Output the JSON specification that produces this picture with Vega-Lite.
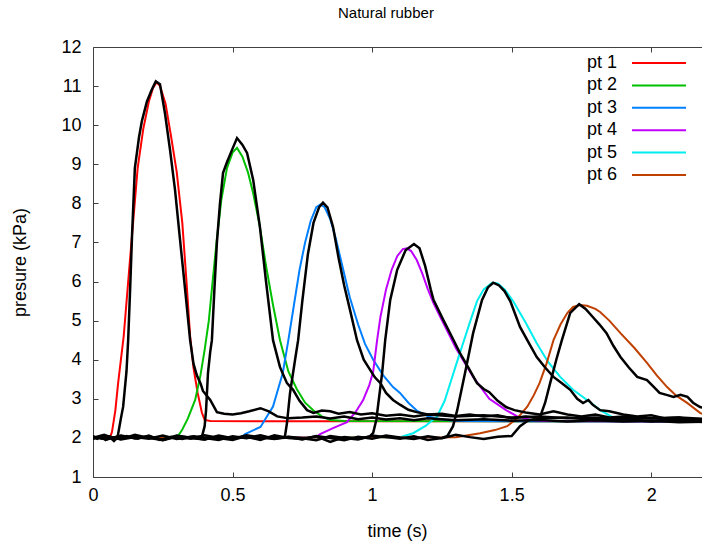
{
"$schema": "https://vega.github.io/schema/vega-lite/v6.json",
"width": 614, "height": 430,
"autosize": {"type": "none"},
"padding": {"left": 93, "top": 47, "right": 0, "bottom": 70},
"background": "white",
"title": {"text": "Natural rubber", "anchor": "start", "frame": "group", "dx": 245, "offset": 17, "fontSize": 15, "font": "Liberation Sans", "fontWeight": "normal", "color": "#000"},
"config": {
"view": {"stroke": "#404040", "strokeWidth": 1},
"axis": {"labelFont": "Liberation Sans", "labelFontSize": 18, "labelColor": "#000", "tickColor": "#404040", "tickSize": -5, "domain": false, "grid": false, "labelOverlap": false, "labelFlush": false, "titleFont": "Liberation Sans", "titleFontSize": 18, "titleFontWeight": "normal", "titleColor": "#000"}
},
"datasets": {
"model": [
{"s":"pt 1","t":0,"p":2.0},{"s":"pt 1","t":0.06,"p":2.0},{"s":"pt 1","t":0.068,"p":2.15},{"s":"pt 1","t":0.08,"p":2.7},{"s":"pt 1","t":0.09,"p":3.4},{"s":"pt 1","t":0.10,"p":4.0},{"s":"pt 1","t":0.11,"p":4.6},{"s":"pt 1","t":0.125,"p":5.9},{"s":"pt 1","t":0.14,"p":7.2},{"s":"pt 1","t":0.16,"p":8.9},{"s":"pt 1","t":0.18,"p":9.9},{"s":"pt 1","t":0.20,"p":10.6},{"s":"pt 1","t":0.215,"p":10.95},{"s":"pt 1","t":0.228,"p":11.1},{"s":"pt 1","t":0.24,"p":11.0},{"s":"pt 1","t":0.26,"p":10.55},{"s":"pt 1","t":0.28,"p":9.7},{"s":"pt 1","t":0.30,"p":8.8},{"s":"pt 1","t":0.32,"p":7.5},{"s":"pt 1","t":0.335,"p":6.0},{"s":"pt 1","t":0.348,"p":4.6},{"s":"pt 1","t":0.36,"p":3.8},{"s":"pt 1","t":0.375,"p":3.15},{"s":"pt 1","t":0.39,"p":2.65},{"s":"pt 1","t":0.40,"p":2.46},{"s":"pt 1","t":0.42,"p":2.43},{"s":"pt 1","t":2.3,"p":2.42},
{"s":"pt 2","t":0,"p":2.0},{"s":"pt 2","t":0.30,"p":2.0},{"s":"pt 2","t":0.319,"p":2.2},{"s":"pt 2","t":0.34,"p":2.5},{"s":"pt 2","t":0.366,"p":2.97},{"s":"pt 2","t":0.385,"p":3.6},{"s":"pt 2","t":0.40,"p":4.25},{"s":"pt 2","t":0.415,"p":5.0},{"s":"pt 2","t":0.43,"p":6.1},{"s":"pt 2","t":0.444,"p":7.1},{"s":"pt 2","t":0.46,"p":8.1},{"s":"pt 2","t":0.48,"p":8.9},{"s":"pt 2","t":0.50,"p":9.3},{"s":"pt 2","t":0.516,"p":9.42},{"s":"pt 2","t":0.535,"p":9.2},{"s":"pt 2","t":0.555,"p":8.8},{"s":"pt 2","t":0.574,"p":8.26},{"s":"pt 2","t":0.598,"p":7.4},{"s":"pt 2","t":0.62,"p":6.4},{"s":"pt 2","t":0.645,"p":5.4},{"s":"pt 2","t":0.67,"p":4.5},{"s":"pt 2","t":0.70,"p":3.7},{"s":"pt 2","t":0.73,"p":3.25},{"s":"pt 2","t":0.76,"p":2.9},{"s":"pt 2","t":0.79,"p":2.7},{"s":"pt 2","t":0.82,"p":2.55},{"s":"pt 2","t":0.85,"p":2.46},{"s":"pt 2","t":0.9,"p":2.43},{"s":"pt 2","t":2.3,"p":2.42},
{"s":"pt 3","t":0,"p":2.0},{"s":"pt 3","t":0.53,"p":2.0},{"s":"pt 3","t":0.545,"p":2.1},{"s":"pt 3","t":0.6,"p":2.28},{"s":"pt 3","t":0.645,"p":2.8},{"s":"pt 3","t":0.68,"p":3.66},{"s":"pt 3","t":0.70,"p":4.5},{"s":"pt 3","t":0.72,"p":5.4},{"s":"pt 3","t":0.74,"p":6.3},{"s":"pt 3","t":0.76,"p":7.0},{"s":"pt 3","t":0.78,"p":7.55},{"s":"pt 3","t":0.80,"p":7.9},{"s":"pt 3","t":0.815,"p":7.97},{"s":"pt 3","t":0.83,"p":7.9},{"s":"pt 3","t":0.85,"p":7.6},{"s":"pt 3","t":0.87,"p":7.1},{"s":"pt 3","t":0.89,"p":6.5},{"s":"pt 3","t":0.92,"p":5.6},{"s":"pt 3","t":0.95,"p":4.9},{"s":"pt 3","t":0.975,"p":4.4},{"s":"pt 3","t":1.004,"p":4.0},{"s":"pt 3","t":1.04,"p":3.6},{"s":"pt 3","t":1.075,"p":3.3},{"s":"pt 3","t":1.10,"p":3.15},{"s":"pt 3","t":1.13,"p":2.9},{"s":"pt 3","t":1.16,"p":2.7},{"s":"pt 3","t":1.20,"p":2.55},{"s":"pt 3","t":1.25,"p":2.47},{"s":"pt 3","t":1.3,"p":2.43},{"s":"pt 3","t":2.3,"p":2.42},
{"s":"pt 4","t":0,"p":2.0},{"s":"pt 4","t":0.80,"p":2.02},{"s":"pt 4","t":0.814,"p":2.1},{"s":"pt 4","t":0.86,"p":2.25},{"s":"pt 4","t":0.91,"p":2.4},{"s":"pt 4","t":0.94,"p":2.65},{"s":"pt 4","t":0.968,"p":2.97},{"s":"pt 4","t":0.99,"p":3.35},{"s":"pt 4","t":1.004,"p":3.7},{"s":"pt 4","t":1.018,"p":4.5},{"s":"pt 4","t":1.03,"p":5.1},{"s":"pt 4","t":1.05,"p":5.8},{"s":"pt 4","t":1.07,"p":6.3},{"s":"pt 4","t":1.09,"p":6.65},{"s":"pt 4","t":1.11,"p":6.83},{"s":"pt 4","t":1.125,"p":6.85},{"s":"pt 4","t":1.14,"p":6.78},{"s":"pt 4","t":1.16,"p":6.55},{"s":"pt 4","t":1.18,"p":6.2},{"s":"pt 4","t":1.20,"p":5.8},{"s":"pt 4","t":1.22,"p":5.45},{"s":"pt 4","t":1.244,"p":5.1},{"s":"pt 4","t":1.30,"p":4.3},{"s":"pt 4","t":1.362,"p":3.56},{"s":"pt 4","t":1.42,"p":3.0},{"s":"pt 4","t":1.48,"p":2.71},{"s":"pt 4","t":1.52,"p":2.55},{"s":"pt 4","t":1.57,"p":2.46},{"s":"pt 4","t":1.62,"p":2.43},{"s":"pt 4","t":2.3,"p":2.42},
{"s":"pt 5","t":0,"p":2.0},{"s":"pt 5","t":1.10,"p":2.02},{"s":"pt 5","t":1.147,"p":2.12},{"s":"pt 5","t":1.19,"p":2.3},{"s":"pt 5","t":1.233,"p":2.55},{"s":"pt 5","t":1.26,"p":2.95},{"s":"pt 5","t":1.28,"p":3.4},{"s":"pt 5","t":1.30,"p":3.85},{"s":"pt 5","t":1.326,"p":4.42},{"s":"pt 5","t":1.35,"p":4.95},{"s":"pt 5","t":1.376,"p":5.5},{"s":"pt 5","t":1.40,"p":5.8},{"s":"pt 5","t":1.43,"p":5.97},{"s":"pt 5","t":1.45,"p":5.95},{"s":"pt 5","t":1.475,"p":5.8},{"s":"pt 5","t":1.505,"p":5.5},{"s":"pt 5","t":1.55,"p":4.95},{"s":"pt 5","t":1.59,"p":4.42},{"s":"pt 5","t":1.63,"p":3.95},{"s":"pt 5","t":1.674,"p":3.56},{"s":"pt 5","t":1.72,"p":3.23},{"s":"pt 5","t":1.77,"p":2.97},{"s":"pt 5","t":1.82,"p":2.7},{"s":"pt 5","t":1.864,"p":2.52},{"s":"pt 5","t":1.9,"p":2.45},{"s":"pt 5","t":1.95,"p":2.43},{"s":"pt 5","t":2.3,"p":2.42},
{"s":"pt 6","t":0,"p":2.0},{"s":"pt 6","t":1.30,"p":2.02},{"s":"pt 6","t":1.387,"p":2.12},{"s":"pt 6","t":1.44,"p":2.2},{"s":"pt 6","t":1.484,"p":2.3},{"s":"pt 6","t":1.52,"p":2.5},{"s":"pt 6","t":1.556,"p":2.8},{"s":"pt 6","t":1.58,"p":3.1},{"s":"pt 6","t":1.60,"p":3.4},{"s":"pt 6","t":1.625,"p":3.9},{"s":"pt 6","t":1.65,"p":4.5},{"s":"pt 6","t":1.675,"p":4.9},{"s":"pt 6","t":1.70,"p":5.2},{"s":"pt 6","t":1.72,"p":5.35},{"s":"pt 6","t":1.745,"p":5.4},{"s":"pt 6","t":1.77,"p":5.38},{"s":"pt 6","t":1.80,"p":5.3},{"s":"pt 6","t":1.817,"p":5.22},{"s":"pt 6","t":1.85,"p":5.0},{"s":"pt 6","t":1.89,"p":4.68},{"s":"pt 6","t":1.94,"p":4.3},{"s":"pt 6","t":1.985,"p":3.92},{"s":"pt 6","t":2.02,"p":3.6},{"s":"pt 6","t":2.057,"p":3.3},{"s":"pt 6","t":2.09,"p":3.08},{"s":"pt 6","t":2.13,"p":2.89},{"s":"pt 6","t":2.175,"p":2.64},{"s":"pt 6","t":2.22,"p":2.5},{"s":"pt 6","t":2.3,"p":2.43}
],
"meas": [
{"s":"m1","t":0,"p":2.05},{"s":"m1","t":0.015,"p":1.98},{"s":"m1","t":0.03,"p":2.04},{"s":"m1","t":0.045,"p":1.95},{"s":"m1","t":0.06,"p":2.02},{"s":"m1","t":0.075,"p":1.92},{"s":"m1","t":0.088,"p":2.02},{"s":"m1","t":0.10,"p":2.5},{"s":"m1","t":0.108,"p":2.8},{"s":"m1","t":0.12,"p":3.7},{"s":"m1","t":0.126,"p":4.5},{"s":"m1","t":0.133,"p":5.8},{"s":"m1","t":0.14,"p":7.2},{"s":"m1","t":0.15,"p":8.9},{"s":"m1","t":0.165,"p":9.7},{"s":"m1","t":0.175,"p":10.1},{"s":"m1","t":0.193,"p":10.6},{"s":"m1","t":0.21,"p":10.9},{"s":"m1","t":0.225,"p":11.12},{"s":"m1","t":0.24,"p":11.05},{"s":"m1","t":0.258,"p":10.3},{"s":"m1","t":0.276,"p":9.37},{"s":"m1","t":0.294,"p":8.34},{"s":"m1","t":0.312,"p":7.06},{"s":"m1","t":0.33,"p":5.8},{"s":"m1","t":0.348,"p":4.5},{"s":"m1","t":0.36,"p":3.9},{"s":"m1","t":0.372,"p":3.6},{"s":"m1","t":0.385,"p":3.4},{"s":"m1","t":0.394,"p":3.2},{"s":"m1","t":0.42,"p":2.97},{"s":"m1","t":0.444,"p":2.66},{"s":"m1","t":0.47,"p":2.62},{"s":"m1","t":0.50,"p":2.6},{"s":"m1","t":0.53,"p":2.63},{"s":"m1","t":0.56,"p":2.68},{"s":"m1","t":0.60,"p":2.76},{"s":"m1","t":0.63,"p":2.68},{"s":"m1","t":0.66,"p":2.55},{"s":"m1","t":0.70,"p":2.5},{"s":"m1","t":0.75,"p":2.52},{"s":"m1","t":0.8,"p":2.55},{"s":"m1","t":0.85,"p":2.5},{"s":"m1","t":0.9,"p":2.55},{"s":"m1","t":0.95,"p":2.48},{"s":"m1","t":1.0,"p":2.52},{"s":"m1","t":1.05,"p":2.47},{"s":"m1","t":1.1,"p":2.5},{"s":"m1","t":1.15,"p":2.45},{"s":"m1","t":1.2,"p":2.5},{"s":"m1","t":1.3,"p":2.45},{"s":"m1","t":1.4,"p":2.48},{"s":"m1","t":1.5,"p":2.44},{"s":"m1","t":1.6,"p":2.46},{"s":"m1","t":1.7,"p":2.42},{"s":"m1","t":1.8,"p":2.45},{"s":"m1","t":1.9,"p":2.42},{"s":"m1","t":2.0,"p":2.44},{"s":"m1","t":2.1,"p":2.4},{"s":"m1","t":2.2,"p":2.42},
{"s":"m2","t":0,"p":2.0},{"s":"m2","t":0.04,"p":2.08},{"s":"m2","t":0.08,"p":1.97},{"s":"m2","t":0.12,"p":2.05},{"s":"m2","t":0.16,"p":1.98},{"s":"m2","t":0.2,"p":2.06},{"s":"m2","t":0.24,"p":1.95},{"s":"m2","t":0.28,"p":2.03},{"s":"m2","t":0.32,"p":1.97},{"s":"m2","t":0.36,"p":2.04},{"s":"m2","t":0.39,"p":2.02},{"s":"m2","t":0.40,"p":2.3},{"s":"m2","t":0.405,"p":2.7},{"s":"m2","t":0.412,"p":3.66},{"s":"m2","t":0.42,"p":4.2},{"s":"m2","t":0.426,"p":4.5},{"s":"m2","t":0.435,"p":5.8},{"s":"m2","t":0.444,"p":7.0},{"s":"m2","t":0.455,"p":8.0},{"s":"m2","t":0.466,"p":8.78},{"s":"m2","t":0.48,"p":9.05},{"s":"m2","t":0.50,"p":9.4},{"s":"m2","t":0.516,"p":9.67},{"s":"m2","t":0.535,"p":9.5},{"s":"m2","t":0.552,"p":9.29},{"s":"m2","t":0.574,"p":8.6},{"s":"m2","t":0.598,"p":7.4},{"s":"m2","t":0.62,"p":6.0},{"s":"m2","t":0.645,"p":4.5},{"s":"m2","t":0.67,"p":3.81},{"s":"m2","t":0.695,"p":3.4},{"s":"m2","t":0.717,"p":3.23},{"s":"m2","t":0.74,"p":2.95},{"s":"m2","t":0.767,"p":2.71},{"s":"m2","t":0.79,"p":2.64},{"s":"m2","t":0.82,"p":2.7},{"s":"m2","t":0.85,"p":2.68},{"s":"m2","t":0.88,"p":2.62},{"s":"m2","t":0.92,"p":2.66},{"s":"m2","t":0.96,"p":2.6},{"s":"m2","t":1.0,"p":2.63},{"s":"m2","t":1.05,"p":2.57},{"s":"m2","t":1.1,"p":2.6},{"s":"m2","t":1.15,"p":2.55},{"s":"m2","t":1.2,"p":2.6},{"s":"m2","t":1.3,"p":2.55},{"s":"m2","t":1.4,"p":2.58},{"s":"m2","t":1.5,"p":2.52},{"s":"m2","t":1.6,"p":2.55},{"s":"m2","t":1.7,"p":2.5},{"s":"m2","t":1.8,"p":2.52},{"s":"m2","t":1.9,"p":2.48},{"s":"m2","t":2.0,"p":2.5},{"s":"m2","t":2.1,"p":2.45},{"s":"m2","t":2.2,"p":2.47},
{"s":"m3","t":0,"p":2.02},{"s":"m3","t":0.05,"p":1.96},{"s":"m3","t":0.1,"p":2.06},{"s":"m3","t":0.15,"p":1.99},{"s":"m3","t":0.2,"p":2.04},{"s":"m3","t":0.25,"p":1.94},{"s":"m3","t":0.3,"p":2.03},{"s":"m3","t":0.35,"p":1.98},{"s":"m3","t":0.4,"p":2.07},{"s":"m3","t":0.45,"p":2.0},{"s":"m3","t":0.5,"p":1.95},{"s":"m3","t":0.55,"p":2.05},{"s":"m3","t":0.6,"p":1.99},{"s":"m3","t":0.65,"p":2.02},{"s":"m3","t":0.68,"p":2.0},{"s":"m3","t":0.688,"p":2.05},{"s":"m3","t":0.695,"p":2.38},{"s":"m3","t":0.706,"p":3.15},{"s":"m3","t":0.724,"p":4.0},{"s":"m3","t":0.735,"p":4.5},{"s":"m3","t":0.75,"p":5.5},{"s":"m3","t":0.77,"p":6.7},{"s":"m3","t":0.79,"p":7.5},{"s":"m3","t":0.81,"p":7.9},{"s":"m3","t":0.824,"p":8.02},{"s":"m3","t":0.84,"p":7.9},{"s":"m3","t":0.86,"p":7.4},{"s":"m3","t":0.88,"p":6.6},{"s":"m3","t":0.90,"p":5.9},{"s":"m3","t":0.92,"p":5.3},{"s":"m3","t":0.946,"p":4.5},{"s":"m3","t":0.97,"p":4.0},{"s":"m3","t":0.993,"p":3.74},{"s":"m3","t":1.01,"p":3.55},{"s":"m3","t":1.03,"p":3.4},{"s":"m3","t":1.05,"p":3.15},{"s":"m3","t":1.075,"p":2.97},{"s":"m3","t":1.10,"p":2.85},{"s":"m3","t":1.13,"p":2.72},{"s":"m3","t":1.16,"p":2.66},{"s":"m3","t":1.2,"p":2.6},{"s":"m3","t":1.25,"p":2.62},{"s":"m3","t":1.3,"p":2.56},{"s":"m3","t":1.35,"p":2.6},{"s":"m3","t":1.4,"p":2.55},{"s":"m3","t":1.45,"p":2.58},{"s":"m3","t":1.5,"p":2.5},{"s":"m3","t":1.55,"p":2.55},{"s":"m3","t":1.6,"p":2.5},{"s":"m3","t":1.7,"p":2.52},{"s":"m3","t":1.8,"p":2.45},{"s":"m3","t":1.9,"p":2.48},{"s":"m3","t":2.0,"p":2.42},{"s":"m3","t":2.1,"p":2.45},{"s":"m3","t":2.2,"p":2.4},
{"s":"m4","t":0,"p":1.98},{"s":"m4","t":0.05,"p":2.04},{"s":"m4","t":0.1,"p":1.97},{"s":"m4","t":0.15,"p":2.08},{"s":"m4","t":0.2,"p":2.0},{"s":"m4","t":0.25,"p":1.95},{"s":"m4","t":0.3,"p":2.05},{"s":"m4","t":0.35,"p":2.01},{"s":"m4","t":0.4,"p":1.96},{"s":"m4","t":0.45,"p":2.06},{"s":"m4","t":0.5,"p":1.99},{"s":"m4","t":0.55,"p":2.03},{"s":"m4","t":0.6,"p":1.95},{"s":"m4","t":0.65,"p":2.07},{"s":"m4","t":0.7,"p":2.0},{"s":"m4","t":0.75,"p":1.97},{"s":"m4","t":0.8,"p":2.04},{"s":"m4","t":0.85,"p":1.9},{"s":"m4","t":0.9,"p":2.02},{"s":"m4","t":0.95,"p":1.98},{"s":"m4","t":0.99,"p":2.02},{"s":"m4","t":1.004,"p":2.13},{"s":"m4","t":1.015,"p":2.46},{"s":"m4","t":1.036,"p":3.66},{"s":"m4","t":1.047,"p":4.5},{"s":"m4","t":1.065,"p":5.53},{"s":"m4","t":1.09,"p":6.3},{"s":"m4","t":1.12,"p":6.8},{"s":"m4","t":1.15,"p":6.96},{"s":"m4","t":1.17,"p":6.85},{"s":"m4","t":1.19,"p":6.4},{"s":"m4","t":1.21,"p":5.8},{"s":"m4","t":1.22,"p":5.53},{"s":"m4","t":1.255,"p":5.02},{"s":"m4","t":1.285,"p":4.6},{"s":"m4","t":1.315,"p":4.17},{"s":"m4","t":1.345,"p":3.8},{"s":"m4","t":1.376,"p":3.4},{"s":"m4","t":1.40,"p":3.25},{"s":"m4","t":1.42,"p":3.17},{"s":"m4","t":1.45,"p":2.95},{"s":"m4","t":1.48,"p":2.79},{"s":"m4","t":1.51,"p":2.71},{"s":"m4","t":1.55,"p":2.65},{"s":"m4","t":1.6,"p":2.6},{"s":"m4","t":1.65,"p":2.68},{"s":"m4","t":1.7,"p":2.6},{"s":"m4","t":1.75,"p":2.55},{"s":"m4","t":1.8,"p":2.6},{"s":"m4","t":1.85,"p":2.52},{"s":"m4","t":1.9,"p":2.55},{"s":"m4","t":2.0,"p":2.5},{"s":"m4","t":2.1,"p":2.52},{"s":"m4","t":2.2,"p":2.48},
{"s":"m5","t":0,"p":2.03},{"s":"m5","t":0.05,"p":1.97},{"s":"m5","t":0.1,"p":2.05},{"s":"m5","t":0.15,"p":1.99},{"s":"m5","t":0.2,"p":2.02},{"s":"m5","t":0.25,"p":1.95},{"s":"m5","t":0.3,"p":2.06},{"s":"m5","t":0.35,"p":2.0},{"s":"m5","t":0.4,"p":1.96},{"s":"m5","t":0.45,"p":2.04},{"s":"m5","t":0.5,"p":1.98},{"s":"m5","t":0.55,"p":2.07},{"s":"m5","t":0.6,"p":2.01},{"s":"m5","t":0.65,"p":1.97},{"s":"m5","t":0.7,"p":2.03},{"s":"m5","t":0.75,"p":1.99},{"s":"m5","t":0.8,"p":1.94},{"s":"m5","t":0.85,"p":2.05},{"s":"m5","t":0.9,"p":2.0},{"s":"m5","t":0.95,"p":1.96},{"s":"m5","t":1.0,"p":2.06},{"s":"m5","t":1.05,"p":2.02},{"s":"m5","t":1.1,"p":1.98},{"s":"m5","t":1.15,"p":2.04},{"s":"m5","t":1.2,"p":1.95},{"s":"m5","t":1.25,"p":2.0},{"s":"m5","t":1.27,"p":2.05},{"s":"m5","t":1.29,"p":2.3},{"s":"m5","t":1.305,"p":2.71},{"s":"m5","t":1.333,"p":3.66},{"s":"m5","t":1.362,"p":4.68},{"s":"m5","t":1.394,"p":5.53},{"s":"m5","t":1.415,"p":5.85},{"s":"m5","t":1.434,"p":5.97},{"s":"m5","t":1.455,"p":5.9},{"s":"m5","t":1.475,"p":5.75},{"s":"m5","t":1.495,"p":5.5},{"s":"m5","t":1.53,"p":4.84},{"s":"m5","t":1.56,"p":4.45},{"s":"m5","t":1.59,"p":4.07},{"s":"m5","t":1.62,"p":3.8},{"s":"m5","t":1.65,"p":3.56},{"s":"m5","t":1.68,"p":3.4},{"s":"m5","t":1.71,"p":3.23},{"s":"m5","t":1.735,"p":3.0},{"s":"m5","t":1.756,"p":2.89},{"s":"m5","t":1.775,"p":2.97},{"s":"m5","t":1.79,"p":2.85},{"s":"m5","t":1.817,"p":2.71},{"s":"m5","t":1.85,"p":2.68},{"s":"m5","t":1.9,"p":2.6},{"s":"m5","t":1.95,"p":2.55},{"s":"m5","t":2.0,"p":2.58},{"s":"m5","t":2.05,"p":2.5},{"s":"m5","t":2.1,"p":2.52},{"s":"m5","t":2.15,"p":2.45},{"s":"m5","t":2.2,"p":2.48},
{"s":"m6","t":0,"p":2.0},{"s":"m6","t":0.05,"p":2.05},{"s":"m6","t":0.1,"p":1.96},{"s":"m6","t":0.15,"p":2.02},{"s":"m6","t":0.2,"p":1.98},{"s":"m6","t":0.25,"p":2.06},{"s":"m6","t":0.3,"p":1.97},{"s":"m6","t":0.35,"p":2.03},{"s":"m6","t":0.4,"p":2.0},{"s":"m6","t":0.45,"p":1.95},{"s":"m6","t":0.5,"p":2.04},{"s":"m6","t":0.55,"p":1.99},{"s":"m6","t":0.6,"p":2.07},{"s":"m6","t":0.65,"p":1.98},{"s":"m6","t":0.7,"p":2.02},{"s":"m6","t":0.75,"p":1.96},{"s":"m6","t":0.8,"p":2.05},{"s":"m6","t":0.85,"p":2.0},{"s":"m6","t":0.9,"p":1.94},{"s":"m6","t":0.95,"p":2.03},{"s":"m6","t":1.0,"p":1.98},{"s":"m6","t":1.05,"p":2.06},{"s":"m6","t":1.1,"p":2.01},{"s":"m6","t":1.15,"p":1.97},{"s":"m6","t":1.2,"p":2.04},{"s":"m6","t":1.25,"p":1.99},{"s":"m6","t":1.3,"p":2.08},{"s":"m6","t":1.35,"p":2.02},{"s":"m6","t":1.4,"p":1.97},{"s":"m6","t":1.45,"p":2.03},{"s":"m6","t":1.5,"p":2.05},{"s":"m6","t":1.53,"p":2.3},{"s":"m6","t":1.56,"p":2.45},{"s":"m6","t":1.60,"p":2.5},{"s":"m6","t":1.62,"p":2.9},{"s":"m6","t":1.638,"p":3.4},{"s":"m6","t":1.66,"p":4.0},{"s":"m6","t":1.68,"p":4.5},{"s":"m6","t":1.71,"p":5.2},{"s":"m6","t":1.742,"p":5.42},{"s":"m6","t":1.765,"p":5.3},{"s":"m6","t":1.79,"p":5.1},{"s":"m6","t":1.815,"p":4.9},{"s":"m6","t":1.84,"p":4.68},{"s":"m6","t":1.865,"p":4.35},{"s":"m6","t":1.89,"p":4.07},{"s":"m6","t":1.92,"p":3.8},{"s":"m6","t":1.95,"p":3.56},{"s":"m6","t":1.985,"p":3.48},{"s":"m6","t":2.01,"p":3.3},{"s":"m6","t":2.03,"p":3.15},{"s":"m6","t":2.055,"p":3.1},{"s":"m6","t":2.08,"p":3.05},{"s":"m6","t":2.105,"p":3.1},{"s":"m6","t":2.13,"p":3.05},{"s":"m6","t":2.15,"p":2.9},{"s":"m6","t":2.175,"p":2.79},{"s":"m6","t":2.2,"p":2.75}
]
},
"layer": [
{
"data": {"name": "model"},
"mark": {"type": "line", "strokeWidth": 2, "clip": true},
"encoding": {
"x": {"field": "t", "type": "quantitative", "scale": {"domain": [0, 2.2], "nice": false, "zero": false},
 "axis": {"orient": "bottom", "values": [0, 0.5, 1, 1.5, 2], "format": "~g", "labelPadding": 14, "title": "time (s)", "titleX": 304, "titleY": 54, "titleBaseline": "middle"}},
"y": {"field": "p", "type": "quantitative", "scale": {"domain": [1, 12], "nice": false, "zero": false},
 "axis": {"values": [1,2,3,4,5,6,7,8,9,10,11,12], "labelOverlap": false, "tickCount": 12, "labelPadding": 17, "title": "presure (kPa)", "titleX": -73, "titleBaseline": "middle"}},
"color": {"field": "s", "type": "nominal",
 "scale": {"domain": ["pt 1", "pt 2", "pt 3", "pt 4", "pt 5", "pt 6"], "range": ["#ff0000", "#00c000", "#0080ff", "#c000ff", "#00eeee", "#c04000"]},
 "legend": {"orient": "none", "legendX": 552.5, "legendY": 7, "title": null, "symbolType": "M-5,0H7", "symbolSize": 81, "symbolStrokeWidth": 2, "rowPadding": 4.4, "padding": 0, "labelAlign": "right", "labelOffset": -46.5, "labelFont": "Liberation Sans", "labelFontSize": 18, "labelColor": "#000"}}
}
},
{
"data": {"name": "meas"},
"mark": {"type": "line", "strokeWidth": 2.5, "color": "#000", "clip": true},
"encoding": {
"x": {"field": "t", "type": "quantitative", "axis": {"orient": "top", "values": [0.5, 1, 1.5, 2], "labels": false, "title": null}},
"y": {"field": "p", "type": "quantitative", "axis": {"values": [1,2,3,4,5,6,7,8,9,10,11,12], "labelOverlap": false, "tickCount": 12, "labelPadding": 17, "title": "presure (kPa)", "titleX": -73, "titleBaseline": "middle"}},
"detail": {"field": "s", "type": "nominal"}
}
}
],
"resolve": {"axis": {"x": "independent"}}
}
